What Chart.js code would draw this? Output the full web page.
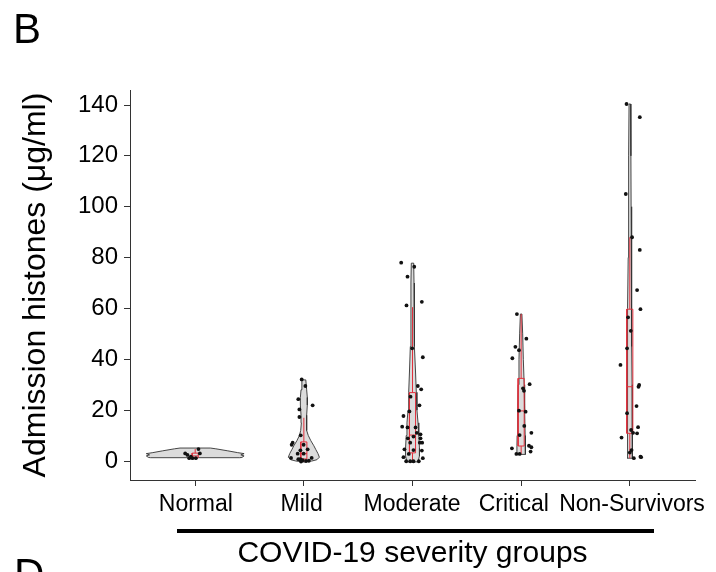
<!DOCTYPE html>
<html>
<head>
<meta charset="utf-8">
<script src="https://cdn.jsdelivr.net/npm/chart.js@4"></script>
<style>
    body { margin: 0; background: #fff; }
    canvas { display: block; }
</style>
</head>
<body>
<canvas id="histoneChart" width="716" height="572"></canvas>
<script>
// Categorías y ticks
const groups = ['Normal', 'Mild', 'Moderate', 'Critical', 'Non-Survivors'];
const yTicks = [0, 20, 40, 60, 80, 100, 120, 140];

// Puntos individuales (valor, desplazamiento horizontal en unidades de categoría)
const normalVals = [3.0, 2.4, 4.7, 3.0, 1.1, 1.1, 1.1, 1.7];
const normalJit = [-0.092, -0.071, 0.03, 0.043, -0.055, -0.025, 0.006, -0.04];
const mildVals = [32.1, 29.5, 24.3, 21.9, 20.3, 17.3, 10.1, 7.2, 6.4, 6.4, 4.2, 4.6, 2.9, 2.9, 1.2, 0.7, 0.7, 0.3, 0, 1.2, -0.2, 0.1];
const mildJit = [-0.02, 0.014, -0.051, 0.081, -0.041, -0.041, -0.029, -0.103, -0.112, -0.002, -0.032, 0.035, -0.057, -0.002, -0.118, -0.051, -0.032, -0.011, 0.02, 0.072, -0.026, 0.046];
const moderateVals = [78.0, 76.4, 72.5, 61.2, 62.6, 44.3, 40.8, 29.5, 28.2, 25.3, 21.9, 19.5, 17.7, 13.5, 13.2, 13.2, 11.1, 10.5, 8.9, 7.2, 7.2, 7.2, 8.9, 9.6, 4.6, 4.3, 4.1, 2.8, 1.5, 1.1, -0.1, -0.1, -0.1, -0.1];
const moderateJit = [-0.104, 0.016, -0.046, -0.055, 0.086, -0.003, 0.095, 0.049, 0.08, -0.018, 0.064, -0.028, -0.083, -0.095, -0.046, 0.028, 0.04, 0.074, 0.074, 0.089, 0.067, -0.021, -0.043, 0.009, -0.074, 0.009, 0.086, -0.034, -0.083, 0.095, -0.058, -0.021, 0.009, 0.058];
const criticalVals = [57.8, 48.1, 44.9, 43.6, 40.4, 30.2, 28.6, 27.6, 19.8, 19.4, 13.8, 11.1, 10.2, 5.0, 6.0, 5.4, 3.7, 2.8, 2.8];
const criticalJit = [-0.039, 0.048, -0.053, -0.02, -0.081, 0.078, 0.017, 0.026, -0.02, 0.041, 0.029, 0.094, -0.014, -0.085, 0.072, 0.094, 0.087, -0.044, -0.014];
const nsVals = [140.4, 135.2, 105, 88, 83, 67.2, 59.7, 56.5, 51.2, 44.3, 37.8, 29.9, 29.2, 21.6, 18.8, 13.3, 12.2, 11.1, 10.9, 9.2, 4.3, 3.3, 1.1, 1.7, 1.5];
const nsJit = [-0.03, 0.092, -0.037, 0.021, 0.092, 0.067, 0.098, -0.016, 0.009, -0.025, -0.086, 0.086, 0.08, 0.062, -0.025, 0.076, 0.012, 0.03, 0.067, -0.076, 0.016, 0, 0.037, 0.098, 0.104];

// Perfil de cada violín (nivel y semiancho en unidades de categoría)
const normalLevels = [1.3, 1.4, 2.0, 2.4, 2.9, 3.3, 4.0, 4.8, 5.1];
const normalHalf = [0.41, 0.43, 0.45, 0.42, 0.45, 0.39, 0.30, 0.19, 0.14];
const mildLevels = [-0.4, 0, 0.5, 1.5, 3, 4.5, 6, 8, 10, 12, 15, 18, 22, 25, 28, 31.9];
const mildHalf = [0, 0.074, 0.12, 0.143, 0.129, 0.11, 0.092, 0.064, 0.041, 0.029, 0.023, 0.026, 0.032, 0.032, 0.026, 0.018];
const moderateLevels = [-0.5, -0.3, 2, 5, 10, 15, 20, 27, 35, 45, 60, 70, 77.8];
const moderateHalf = [0, 0.051, 0.064, 0.064, 0.058, 0.051, 0.041, 0.035, 0.028, 0.02, 0.015, 0.014, 0.011];
const criticalLevels = [2.6, 6, 10, 20, 30, 40, 50, 57.8];
const criticalHalf = [0.039, 0.039, 0.037, 0.032, 0.028, 0.02, 0.014, 0.007];
const nsLevels = [1.1, 10, 20, 30, 45, 60, 80, 100, 120, 140.4];
const nsHalf = [0.024, 0.024, 0.023, 0.021, 0.019, 0.017, 0.015, 0.012, 0.01, 0.007];

// Estadísticos del boxplot
const boxLow = [1.1, -0.4, -0.1, 2.8, 1.1];
const boxQ1 = [1.3, 0.8, 3.2, 5.9, 10.9];
const boxMed = [2.0, 2.9, 10.2, 19.7, 29.2];
const boxQ3 = [3.1, 7.5, 26.9, 32.5, 59.7];
const boxHigh = [4.7, 17, 60.5, 57.8, 88];

const FONT = '"Liberation Sans", Arial, sans-serif';
const AXIS_COLOR = '#333';
const BOX_COLOR = '#e0303c';
const BOX_HALF = 0.028;

const pointSets = [
    [normalVals, normalJit], [mildVals, mildJit], [moderateVals, moderateJit],
    [criticalVals, criticalJit], [nsVals, nsJit]
];
const violinSets = [
    [normalLevels, normalHalf], [mildLevels, mildHalf], [moderateLevels, moderateHalf],
    [criticalLevels, criticalHalf], [nsLevels, nsHalf]
];

/**
 * Polígono cerrado de un violín
 */
function violinPath(center, levels, half) {
    const pts = [];
    for (let i = 0; i < levels.length; i++) pts.push({x: center - half[i], y: levels[i]});
    for (let i = levels.length - 1; i >= 0; i--) pts.push({x: center + half[i], y: levels[i]});
    pts.push(pts[0]);
    return pts;
}

/**
 * Caja, mediana y bigotes como una línea con cortes
 */
function boxPath(i) {
    const c = i + 1;
    const gap = {x: null, y: null};
    return [
        {x: c, y: boxLow[i]}, {x: c, y: boxQ1[i]}, gap,
        {x: c - BOX_HALF, y: boxQ1[i]}, {x: c + BOX_HALF, y: boxQ1[i]},
        {x: c + BOX_HALF, y: boxQ3[i]}, {x: c - BOX_HALF, y: boxQ3[i]},
        {x: c - BOX_HALF, y: boxQ1[i]}, gap,
        {x: c - BOX_HALF, y: boxMed[i]}, {x: c + BOX_HALF, y: boxMed[i]}, gap,
        {x: c, y: boxQ3[i]}, {x: c, y: boxHigh[i]}
    ];
}

const datasets = [];

// Puntos encima de todo
const dots = [];
pointSets.forEach(([vals, jit], g) => {
    vals.forEach((v, k) => dots.push({x: g + 1 + jit[k], y: v}));
});
datasets.push({
    data: dots,
    pointRadius: 1.9,
    pointBackgroundColor: '#111',
    pointBorderWidth: 0,
    showLine: false,
    order: 0
});

groups.forEach((name, g) => {
    datasets.push({
        data: boxPath(g),
        showLine: true,
        spanGaps: false,
        fill: false,
        borderColor: BOX_COLOR,
        borderWidth: 1,
        pointRadius: 0,
        order: 1
    });
    datasets.push({
        data: violinPath(g + 1, violinSets[g][0], violinSets[g][1]),
        showLine: true,
        fill: 'shape',
        backgroundColor: '#dcdcdc',
        borderColor: '#333',
        borderWidth: 0.9,
        pointRadius: 0,
        order: 2
    });
});

// Letras de panel y barra bajo las categorías
const panelDecor = {
    id: 'panelDecor',
    afterDraw(chart) {
        const ctx = chart.ctx;
        ctx.save();
        ctx.fillStyle = '#000';
        ctx.font = '42px ' + FONT;
        ctx.textBaseline = 'alphabetic';
        ctx.fillText('B', 13, 43);
        ctx.fillText('D', 14, 588);
        ctx.fillRect(177, 529, 477, 4);
        ctx.restore();
    }
};

new Chart(document.getElementById('histoneChart'), {
    type: 'scatter',
    data: {datasets},
    plugins: [panelDecor],
    options: {
        responsive: false,
        animation: false,
        layout: {padding: {top: 90, right: 21, left: 0, bottom: 0}},
        plugins: {legend: {display: false}, tooltip: {enabled: false}},
        scales: {
            x: {
                type: 'linear',
                min: 0.4,
                max: 5.6,
                afterBuildTicks: s => { s.ticks = groups.map((n, i) => ({value: i + 1})); },
                afterFit: s => { s.height = 6; },
                ticks: {callback: () => '', padding: 0},
                grid: {drawOnChartArea: false, drawTicks: true, tickLength: 6, color: AXIS_COLOR},
                border: {color: AXIS_COLOR, width: 1}
            },
            x2: {
                type: 'linear',
                position: 'bottom',
                min: 0.4,
                max: 5.6,
                // posiciones de las etiquetas como en el original
                afterBuildTicks: s => { s.ticks = [1.006, 1.98, 2.996, 3.932, 5.02].map(v => ({value: v})); },
                afterFit: s => { s.height = 86; },
                ticks: {
                    callback: (v, i) => groups[i],
                    autoSkip: false,
                    maxRotation: 0,
                    minRotation: 0,
                    padding: 5,
                    color: '#000',
                    font: {family: FONT, size: 23}
                },
                grid: {display: false, drawTicks: false},
                border: {display: false},
                title: {
                    display: true,
                    text: 'COVID-19 severity groups',
                    color: '#000',
                    font: {family: FONT, size: 30},
                    padding: {top: 0, bottom: 0}
                }
            },
            y: {
                min: -7.47,
                max: 145.9,
                afterBuildTicks: s => { s.ticks = yTicks.map(v => ({value: v})); },
                afterFit: s => { s.width = 130; },
                ticks: {
                    padding: 6,
                    color: '#000',
                    font: {family: FONT, size: 24}
                },
                grid: {drawOnChartArea: false, drawTicks: true, tickLength: 6, color: AXIS_COLOR},
                border: {color: AXIS_COLOR, width: 1},
                title: {
                    display: true,
                    text: 'Admission histones (μg/ml)',
                    color: '#000',
                    font: {family: FONT, size: 32},
                    padding: {top: 17, bottom: 0}
                }
            }
        }
    }
});
</script>
</body>
</html>
